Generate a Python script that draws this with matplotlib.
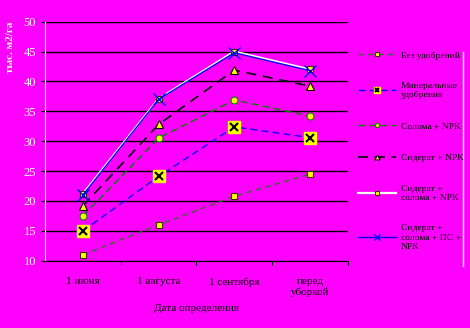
import matplotlib
matplotlib.use("Agg")
import matplotlib.pyplot as plt
from matplotlib.lines import Line2D

plt.rcParams['font.family'] = ['Liberation Serif', 'DejaVu Serif']

# data
dates = ["1 июня", "1 августа", "1 сентября", "перед\nуборкой"]
no_fert = [11.0, 16.0, 20.8, 24.5]
mineral = [15.0, 24.1, 32.4, 30.6]
straw_npk = [17.5, 30.5, 36.9, 34.2]
sider_npk = [19.2, 32.8, 41.9, 39.2]
sider_straw_npk = [21.2, 37.1, 45.0, 42.0]
sider_straw_ps_npk = [21.0, 37.0, 44.8, 41.8]

labels = ["Без удобрений", "Минеральные\nудобрения", "Солома + NPK",
          "Сидерат + NPK", "Сидерат +\nсолома + NPK", "Сидерат +\nсолома + ПС +\nNPK"]

bg = "#ff00ff"
fig = plt.figure(figsize=(4.7, 3.28), dpi=100, facecolor=bg)
ax = fig.add_axes([0.096, 0.205, 0.644, 0.729], facecolor=bg)

x = list(range(len(dates)))

h1, = ax.plot(x, no_fert, color="#2e6b2e", ls=(0, (4, 3)), lw=1,
              marker="s", ms=5, mfc="yellow", mec="#333300", mew=0.8)
h2a, = ax.plot(x, mineral, color="#0000ff", ls=(0, (5, 3)), lw=1,
               marker="s", ms=8, mfc="yellow", mec="yellow")
h2b, = ax.plot(x, mineral, ls="none", marker="x", ms=6, mec="black", mew=1.5)
h3, = ax.plot(x, straw_npk, color="#008000", ls=(0, (5, 3)), lw=1,
              marker="o", ms=5, mfc="yellow", mec="#008000", mew=0.8)
h4, = ax.plot(x, sider_npk, color="black", ls=(0, (6, 4)), lw=1.2,
              marker="^", ms=6, mfc="yellow", mec="black", mew=0.8)
h5, = ax.plot(x, sider_straw_npk, color="white", lw=1.6,
              marker="s", ms=5, mfc="yellow", mec="#333300", mew=0.8)
h6, = ax.plot(x, sider_straw_ps_npk, color="#0000ff", lw=1,
              marker="x", ms=8, mec="#0000ff", mew=1)

ax.set_xlim(-0.5, 3.5)
ax.set_ylim(10, 50)
ax.set_yticks(range(10, 51, 5))
ax.grid(axis="y", color="black", lw=1)
ax.set_axisbelow(True)

ax.set_xticks([v + 0.5 for v in x])
ax.set_xticklabels([])
ax.set_xticks(x, minor=True)
ax.set_xticklabels(dates, minor=True, fontsize=8, color="black")
ax.tick_params(axis="x", which="major", length=3, color="black")
ax.tick_params(axis="x", which="minor", length=0, pad=12)
ax.tick_params(axis="y", length=3, color="black", labelcolor="white", labelsize=9)

for s in ["top", "right"]:
    ax.spines[s].set_visible(False)
ax.spines["left"].set_color("white")
ax.spines["bottom"].set_color("black")

ax.set_xlabel("Дата определения", fontsize=8, color="black", labelpad=5)
ax.set_ylabel("тыс. м2/га", fontsize=8, color="white", loc="top", labelpad=6,
              fontweight="bold")

leg = fig.legend([h1, (h2a, h2b), h3, h4, h5, h6], labels,
                 loc="upper left", bbox_to_anchor=(0.748, 0.865),
                 frameon=False, fontsize=6.8, handlelength=4.0, borderpad=0.2,
                 labelspacing=2.4, handletextpad=0.5, markerscale=0.6)
for t in leg.get_texts():
    t.set_color("black")

fig.add_artist(Line2D([0.985, 0.985], [0.19, 0.84], color="white", lw=1))

fig.savefig("out.png", dpi=100, facecolor=bg)
